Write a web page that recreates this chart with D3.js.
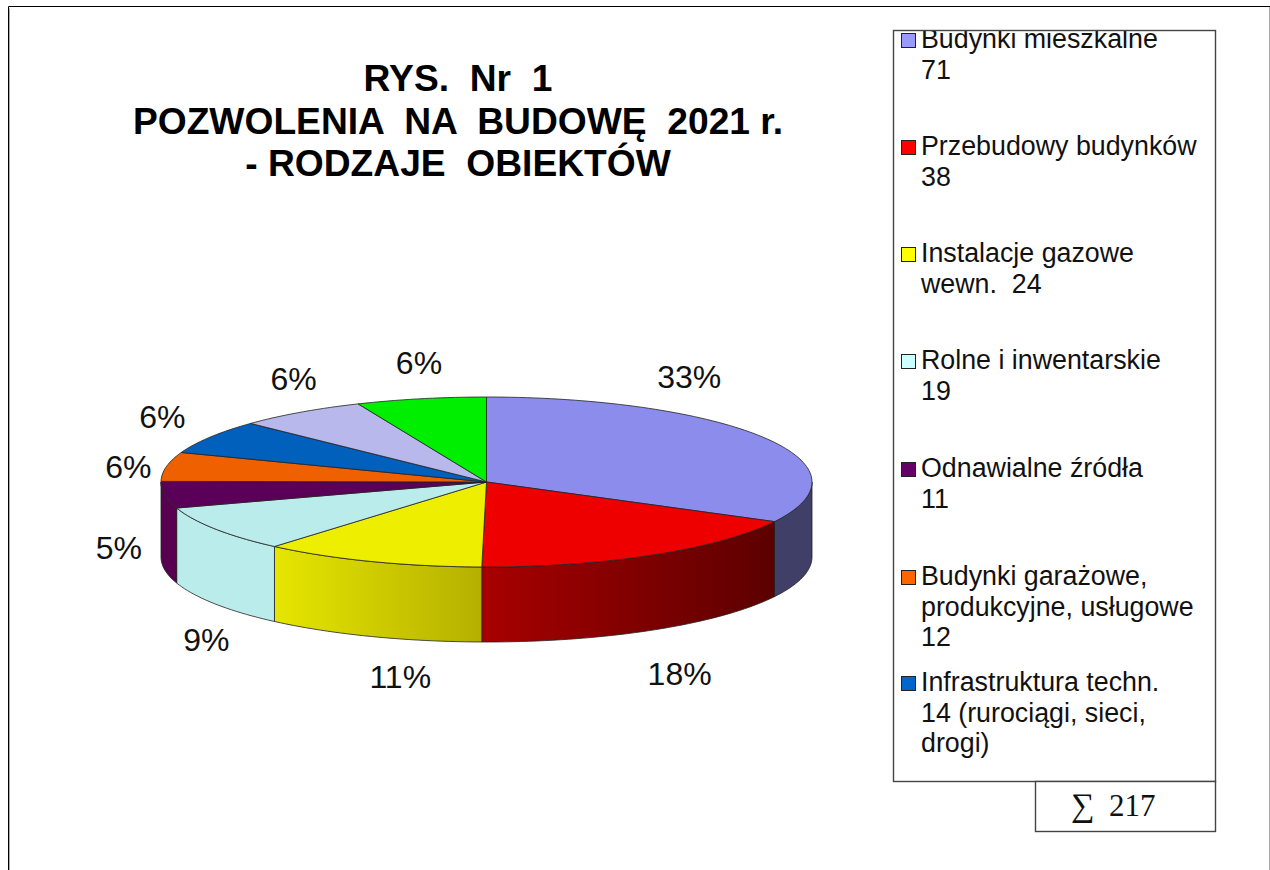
<!DOCTYPE html>
<html>
<head>
<meta charset="utf-8">
<script src="https://cdn.jsdelivr.net/npm/d3@7"></script>
<style>
body { margin: 0; background: #fff; }
text { font-family: "Liberation Sans", Arial, sans-serif; fill: #111; white-space: pre; }
</style>
</head>
<body>
<div id="chart"></div>
<script>
// values: the two last slices have no entry in the legend box (it cuts them off)
var categories = ["Budynki mieszkalne", "Przebudowy budynków", "Instalacje gazowe", "Rolne i inwentarskie",
    "Odnawialne źródła", "Budynki garażowe", "Infrastruktura techn.", "Pozostałe 1", "Pozostałe 2"];
var values = [71, 38, 24, 19, 11, 12, 14, 14, 14];
var percentLabels = ["33%", "18%", "11%", "9%", "5%", "6%", "6%", "6%", "6%"];
var titleLines = ["RYS.  Nr  1", "POZWOLENIA  NA  BUDOWĘ  2021 r.", "- RODZAJE  OBIEKTÓW"];
var legendLines = [
    ["Budynki mieszkalne", "71"],
    ["Przebudowy budynków", "38"],
    ["Instalacje gazowe", "wewn.  24"],
    ["Rolne i inwentarskie", "19"],
    ["Odnawialne źródła", "11"],
    ["Budynki garażowe,", "produkcyjne, usługowe", "12"],
    ["Infrastruktura techn.", "14 (rurociągi, sieci,", "drogi)"]
];
var total = "217";

var topColors = ["#8c8cec", "#ee0000", "#eeee00", "#bbecec", "#5a0058", "#ee6000", "#0060bb", "#b8b8ec", "#00ee00"];
var wallLeft = ["#3f3f68", "#a80000", "#e6e600", "#bbecec", "#5a0050"];
var wallRight = ["#3f3f68", "#5c0000", "#b5b000", "#bbecec", "#5a0050"];
var swatchColors = ["#9999ff", "#ff0000", "#ffff00", "#ccffff", "#660066", "#ff6600", "#0066cc"];

var width = 1270, height = 870;
var depth = 75;

var svg = d3.select("#chart").append("svg")
    .attr("width", width)
    .attr("height", height)
    .style("display", "block");

// frame: black top and left, thin grey shadow inside, grey right
svg.append("path")
    .attr("d", "M9.5," + height + "V8.5")
    .style("fill", "none").style("stroke", "#aaa").style("stroke-width", "1px");
svg.append("path")
    .attr("d", "M1269.5," + height + "V7")
    .style("fill", "none").style("stroke", "#aaa").style("stroke-width", "1px");
svg.append("path")
    .attr("d", "M8.5," + height + "V6.5H" + width)
    .style("fill", "none").style("stroke", "#000").style("stroke-width", "1px");

// title
svg.selectAll(".title").data(titleLines).enter().append("text")
    .attr("class", "title")
    .attr("x", 458)
    .attr("y", function(d, i){ return 91 + i * 42.7; })
    .attr("text-anchor", "middle")
    .style("font-size", "37.2px")
    .style("font-weight", "bold")
    .style("fill", "#000")
    .text(function(d){ return d; });

// pie, squashed to an ellipse
var x = d3.scaleLinear().domain([-1, 1]).range([161, 812]);
var y = d3.scaleLinear().domain([-1, 1]).range([397, 567]);

var arcs = d3.pie().sort(null)(values);

function rim(a, dy) {
    return [x(Math.sin(a)), y(-Math.cos(a)) + (dy || 0)];
}
function rimPoints(a0, a1, dy) {
    var n = Math.max(2, Math.ceil((a1 - a0) * 40));
    return d3.range(n + 1).map(function(i){ return rim(a0 + (a1 - a0) * i / n, dy); });
}
var line = d3.line();

var defs = svg.append("defs");
var wallG = svg.append("g");

// side walls, only the part on the front half of the disc
arcs.forEach(function(d, i){
    var a0 = Math.max(d.startAngle, Math.PI / 2);
    var a1 = Math.min(d.endAngle, Math.PI * 1.5);
    if (a1 <= a0) return;
    var grad = defs.append("linearGradient").attr("id", "wall" + i);
    grad.append("stop").attr("offset", "0%").attr("stop-color", wallLeft[i]);
    grad.append("stop").attr("offset", "100%").attr("stop-color", wallRight[i]);
    var pts = rimPoints(a0, a1, 0).concat(rimPoints(a0, a1, depth).reverse());
    wallG.append("path")
        .attr("d", line(pts) + "Z")
        .style("fill", "url(#wall" + i + ")")
        .style("stroke", "#222")
        .style("stroke-width", "0.8px")
        .style("stroke-linejoin", "round");
});

// top faces
svg.append("g").selectAll("path").data(arcs).enter().append("path")
    .attr("d", function(d){
        return line([[x(0), y(0)]].concat(rimPoints(d.startAngle, d.endAngle, 0))) + "Z";
    })
    .style("fill", function(d, i){ return topColors[i]; })
    .style("stroke", "#222")
    .style("stroke-width", "0.8px")
    .style("stroke-linejoin", "round");

// percent labels, nudged off the rim point at the middle of each slice
var labelNudge = [[-76, -61], [27, 119], [29, 115], [-9, 111], [-46, 53], [-38, 0], [-48, -20], [-7, -33], [-2, -36]];
svg.append("g").selectAll("text").data(arcs).enter().append("text")
    .attr("x", function(d, i){ return rim((d.startAngle + d.endAngle) / 2)[0] + labelNudge[i][0]; })
    .attr("y", function(d, i){ return rim((d.startAngle + d.endAngle) / 2)[1] + labelNudge[i][1]; })
    .attr("dy", "0.35em")
    .attr("text-anchor", "middle")
    .style("font-size", "32px")
    .text(function(d, i){ return percentLabels[i]; });

// legend box; text is clipped at its top edge like in the original
defs.append("clipPath").attr("id", "legendClip").append("rect")
    .attr("x", 893).attr("y", 31).attr("width", 323).attr("height", 751);

var legendTop = [48, 155, 262, 369, 477, 585, 691];
var legend = svg.append("g").attr("clip-path", "url(#legendClip)")
    .selectAll("g").data(legendLines).enter().append("g");

legend.append("rect")
    .attr("x", 901.5)
    .attr("y", function(d, i){ return legendTop[i] - 14.5; })
    .attr("width", 14).attr("height", 14)
    .style("fill", function(d, i){ return swatchColors[i]; })
    .style("stroke", "#222")
    .style("stroke-width", "1px");

legend.each(function(lines, i){
    d3.select(this).selectAll("text").data(lines).enter().append("text")
        .attr("x", 921)
        .attr("y", function(d, j){ return legendTop[i] + j * 30.7; })
        .style("font-size", "26.8px")
        .text(function(d){ return d; });
});

svg.append("rect")
    .attr("x", 893.5).attr("y", 30.5).attr("width", 322).attr("height", 751)
    .style("fill", "none").style("stroke", "#444").style("stroke-width", "1.4px");

// total box
svg.append("rect")
    .attr("x", 1035.5).attr("y", 781.5).attr("width", 180).attr("height", 50)
    .style("fill", "#fff").style("stroke", "#444").style("stroke-width", "1.4px");
svg.append("text")
    .attr("x", 1071).attr("y", 816)
    .style("font-family", "'Liberation Serif', serif")
    .style("font-size", "33px")
    .text("∑");
svg.append("text")
    .attr("x", 1109).attr("y", 816)
    .style("font-family", "'Liberation Serif', serif")
    .style("font-size", "31px")
    .text(total);
</script>
</body>
</html>
